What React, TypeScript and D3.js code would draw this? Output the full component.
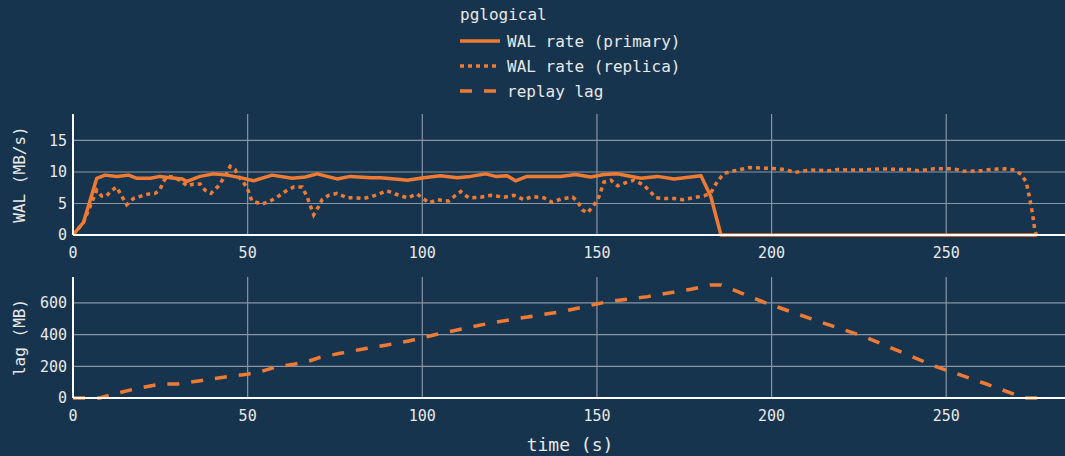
import React from 'react';
import * as d3 from 'd3';

// WAL rate on the primary (MB/s)
const primaryT = [0, 3, 6.8, 9.2, 12.5, 15.9, 18.3, 22.2, 24.9, 27.8, 31.2, 32.6, 36.4, 40.2, 44.1, 47.9, 51.7, 57, 62.7, 66.5, 69.9, 75.6, 79.4, 85.2, 88, 93.7, 95.7, 100.4, 105.2, 110, 113.8, 118.1, 121, 124.3, 126.7, 130, 135.8, 139.6, 143.9, 148.2, 152, 155.9, 158.7, 162.6, 167.3, 172.1, 179.8, 182.6, 185.5, 276];
const primaryV = [0, 2, 9.0, 9.5, 9.3, 9.5, 9.0, 9.0, 9.3, 9.1, 8.9, 8.5, 9.3, 9.7, 9.5, 9.1, 8.6, 9.5, 9.0, 9.2, 9.7, 8.9, 9.3, 9.1, 9.1, 8.8, 8.7, 9.1, 9.4, 9.1, 9.3, 9.7, 9.3, 9.4, 8.6, 9.3, 9.3, 9.3, 9.6, 9.2, 9.6, 9.7, 9.4, 9.0, 9.3, 8.9, 9.4, 6.1, 0, 0];

// WAL rate on the replica (MB/s)
const replicaT = [0, 3, 6.8, 8.2, 9.6, 11.1, 12.5, 14, 15.4, 17.3, 20.2, 21.6, 23.5, 24.9, 25.9, 26.9, 28.8, 31.2, 32.6, 34.5, 36.4, 37.8, 39.5, 41.7, 44.1, 45, 46.4, 47.4, 49.8, 51.2, 54.1, 56.5, 58.9, 61.3, 63.2, 65.6, 67, 68.9, 70.3, 71.3, 73.2, 75.6, 78.5, 80.8, 83.2, 85.6, 89.9, 92.3, 95.7, 98.5, 100, 101.9, 104.3, 107.6, 109.5, 111, 113.3, 116.7, 119.6, 123.4, 126.2, 129.1, 131.5, 134.8, 137.2, 139.6, 143, 144.4, 145.8, 147.3, 149.2, 150.6, 152, 154, 155.9, 158.3, 160.6, 163.5, 166.9, 169.3, 172.1, 174.5, 177.4, 180.7, 182.6, 184.5, 186.4, 190.3, 193.6, 197.9, 202.2, 204.6, 206.5, 208.4, 211.3, 216.6, 219, 221.8, 226.1, 231.4, 237.1, 239.5, 241.9, 246.6, 250.9, 252.9, 255.3, 260, 262.9, 266.7, 269.6, 271.5, 272.9, 273.9, 274.7, 275.3, 275.8];
const replicaV = [0, 2, 7.1, 6.2, 6.2, 7.1, 7.6, 6.1, 4.8, 5.8, 6.3, 6.5, 6.6, 7.2, 8.5, 9.3, 9.2, 8.5, 7.8, 8.1, 8.1, 7.1, 6.6, 7.8, 9.9, 10.9, 10.4, 9.3, 7.6, 5.4, 4.9, 5.4, 6.2, 7.1, 7.6, 7.6, 6.1, 3.2, 4.5, 5.6, 6.3, 6.6, 5.9, 5.9, 5.8, 6.1, 7.0, 6.5, 5.9, 6.5, 5.9, 5.1, 5.6, 5.4, 6.3, 6.9, 5.9, 6.0, 6.3, 6.0, 6.3, 5.6, 6.1, 5.9, 5.2, 5.7, 6.0, 5.4, 4.0, 3.5, 4.8, 6.1, 8.4, 8.7, 7.8, 8.3, 8.7, 7.9, 5.9, 5.8, 5.8, 5.6, 5.9, 6.2, 6.7, 8.5, 9.8, 10.3, 10.7, 10.6, 10.5, 10.3, 9.9, 10.1, 10.3, 10.2, 10.4, 10.3, 10.3, 10.5, 10.4, 10.4, 10.2, 10.5, 10.5, 10.4, 10.1, 10.2, 10.4, 10.5, 10.3, 9.6, 8.4, 5.8, 3.4, 1.0, 0];

// replay lag (MB)
const lagT = [0, 7.7, 10.6, 17.3, 24.9, 29.7, 36.4, 44.1, 49.8, 53.6, 58.4, 63.2, 67, 70.8, 76.5, 84.2, 89.9, 96.1, 103.3, 109, 117.6, 128.2, 140.6, 149.2, 153, 164.5, 176.9, 182.6, 185.5, 197.9, 212.2, 226.6, 246.6, 260.9, 272.4, 278];
const lagV = [0, 0, 19, 55, 88, 88, 109, 135, 150, 166, 198, 213, 229, 257, 282, 314, 335, 360, 398, 425, 465, 505, 548, 590, 608, 640, 687, 714, 714, 604, 493, 387, 202, 93, 0, 0];

const xTicks = [0, 50, 100, 150, 200, 250];
const walTicks = [0, 5, 10, 15];
const lagTicks = [0, 200, 400, 600];

const legendTitle = 'pglogical';
const seriesNames = ['WAL rate (primary)', 'WAL rate (replica)', 'replay lag'];
const seriesDash = ['none', '4,4', '12,12'];

const W = 1065;
const H = 456;
const BG = '#17344f';
const ORANGE = '#ef7b33';
const GRID = '#8995a2';
const TEXT = '#e8e8e8';
const FONT = '"DejaVu Sans Mono", monospace';

const x = d3.scaleLinear().domain([0, 284]).range([73, 1065]);
const yWal = d3.scaleLinear().domain([0, 19.2]).range([235, 114]);
const yLag = d3.scaleLinear().domain([0, 764]).range([398, 277]);

const App: React.FC = () => {
  const zip = (t: number[], v: number[]) => t.map((d, i) => [d, v[i]] as [number, number]);
  const walLine = d3.line<[number, number]>().x(d => x(d[0])).y(d => yWal(d[1]));
  const lagLine = d3.line<[number, number]>().x(d => x(d[0])).y(d => yLag(d[1]));

  const panel = (y: d3.ScaleLinear<number, number>, ticks: number[], title: string) => {
    const [y0, y1] = y.range();
    return (
      <g>
        {xTicks.filter(t => t > 0).map(t => (
          <line key={'vx' + t} x1={x(t)} x2={x(t)} y1={y1} y2={y0} stroke={GRID} strokeWidth={1.2} />
        ))}
        {ticks.filter(t => t > 0).map(t => (
          <line key={'hy' + t} x1={x(0)} x2={W} y1={y(t)} y2={y(t)} stroke={GRID} strokeWidth={1.2} />
        ))}
        {ticks.map(t => (
          <text key={'ty' + t} x={67} y={y(t)} dy="0.35em" textAnchor="end" fill={TEXT} fontSize={15}>{t}</text>
        ))}
        {xTicks.map(t => (
          <text key={'tx' + t} x={x(t)} y={y0 + 18} dy="0.35em" textAnchor="middle" fill={TEXT} fontSize={15}>{t}</text>
        ))}
        <text transform={`translate(19,${(y0 + y1) / 2}) rotate(-90)`} dy="0.35em" textAnchor="middle" fill={TEXT} fontSize={16}>{title}</text>
      </g>
    );
  };

  return (
    <svg width={W} height={H} style={{ position: 'absolute', left: 0, top: 0, background: BG }} fontFamily={FONT}>
      <rect width={W} height={H} fill={BG} />
      {panel(yWal, walTicks, 'WAL (MB/s)')}
      {panel(yLag, lagTicks, 'lag (MB)')}

      <path d={walLine(zip(primaryT, primaryV)) || ''} fill="none" stroke={ORANGE} strokeWidth={3.5} strokeLinejoin="round" />
      <path d={walLine(zip(replicaT, replicaV)) || ''} fill="none" stroke={ORANGE} strokeWidth={3.5} strokeDasharray={seriesDash[1]} />
      <path d={lagLine(zip(lagT, lagV)) || ''} fill="none" stroke={ORANGE} strokeWidth={3.5} strokeDasharray={seriesDash[2]} />

      {/* axis lines */}
      <line x1={x(0)} x2={W} y1={yWal(0)} y2={yWal(0)} stroke="#fff" strokeWidth={2} />
      <line x1={x(0)} x2={x(0)} y1={114} y2={yWal(0)} stroke="#fff" strokeWidth={2} />
      <line x1={x(0)} x2={W} y1={yLag(0)} y2={yLag(0)} stroke="#fff" strokeWidth={2} />
      <line x1={x(0)} x2={x(0)} y1={277} y2={yLag(0)} stroke="#fff" strokeWidth={2} />

      <text x={570} y={445} dy="0.35em" textAnchor="middle" fill={TEXT} fontSize={18}>time (s)</text>

      {/* legend */}
      <text x={460} y={14} dy="0.35em" fill={TEXT} fontSize={16}>{legendTitle}</text>
      {seriesNames.map((name, i) => (
        <g key={name} transform={`translate(460,${41 + i * 25})`}>
          <line x1={0} x2={40} y1={0} y2={0} stroke={ORANGE} strokeWidth={3.5} strokeDasharray={seriesDash[i]} />
          <text x={47} y={0} dy="0.35em" fill={TEXT} fontSize={16}>{name}</text>
        </g>
      ))}
    </svg>
  );
};

export default App;
